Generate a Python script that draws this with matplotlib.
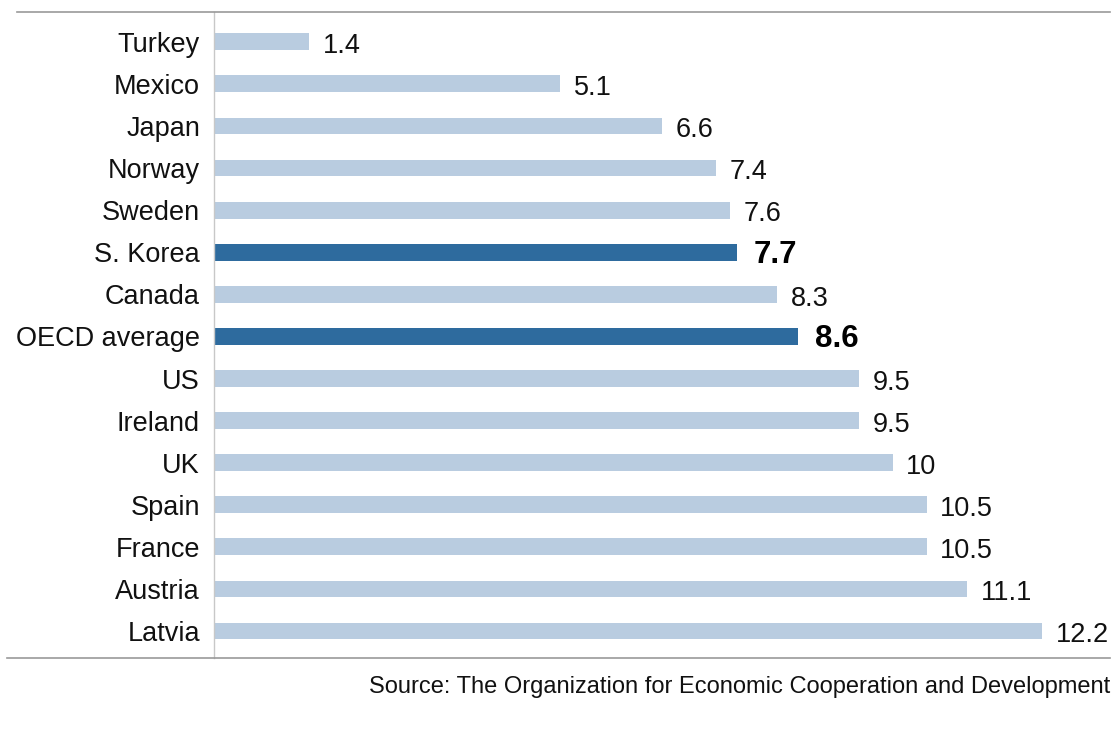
import matplotlib.pyplot as plt
from matplotlib.lines import Line2D

plt.rcParams['font.family'] = ['Liberation Sans', 'DejaVu Sans']

# Data
countries = ['Turkey', 'Mexico', 'Japan', 'Norway', 'Sweden', 'S. Korea', 'Canada',
             'OECD average', 'US', 'Ireland', 'UK', 'Spain', 'France', 'Austria', 'Latvia']
values = [1.4, 5.1, 6.6, 7.4, 7.6, 7.7, 8.3, 8.6, 9.5, 9.5, 10, 10.5, 10.5, 11.1, 12.2]
labels = ['1.4', '5.1', '6.6', '7.4', '7.6', '7.7', '8.3', '8.6', '9.5', '9.5', '10',
          '10.5', '10.5', '11.1', '12.2']
highlight = ['S. Korea', 'OECD average']

light = '#b9cce0'
dark = '#2e6b9e'

fig = plt.figure(figsize=(11.2, 7.46), dpi=100)
ax = fig.add_axes([0.191, 0.118, 0.8, 0.866])

ypos = list(range(len(countries)))
colors = [dark if c in highlight else light for c in countries]
ax.barh(ypos, values, height=0.4, color=colors)

for y, v, lab, c in zip(ypos, values, labels, countries):
    if c in highlight:
        ax.text(v + 0.25, y + 0.07, lab, va='center', ha='left', fontsize=22.5,
                fontweight='bold', color='black')
    else:
        ax.text(v + 0.2, y + 0.1, lab, va='center', ha='left', fontsize=19.5,
                color='#111111')

ax.set_yticks(ypos)
ax.set_yticklabels(countries, fontsize=19.5, color='#111111')
ax.tick_params(axis='y', length=0, pad=10)
ax.set_xticks([])
ax.set_xlim(0, 13.2)
ax.set_ylim(14.64, -0.71)

for s in ['top', 'right', 'bottom']:
    ax.spines[s].set_visible(False)
ax.spines['left'].set_color('#c8c8c8')
ax.spines['left'].set_linewidth(1)

# horizontal rules across the figure
fig.add_artist(Line2D([0.015, 0.991], [0.984, 0.984], color='#999999', lw=1.2))
fig.add_artist(Line2D([0.006, 0.991], [0.118, 0.118], color='#999999', lw=1.2))

fig.text(0.991, 0.079, 'Source: The Organization for Economic Cooperation and Development',
         ha='right', va='center', fontsize=17, color='#111111')

fig.savefig('out.png', dpi=100)
